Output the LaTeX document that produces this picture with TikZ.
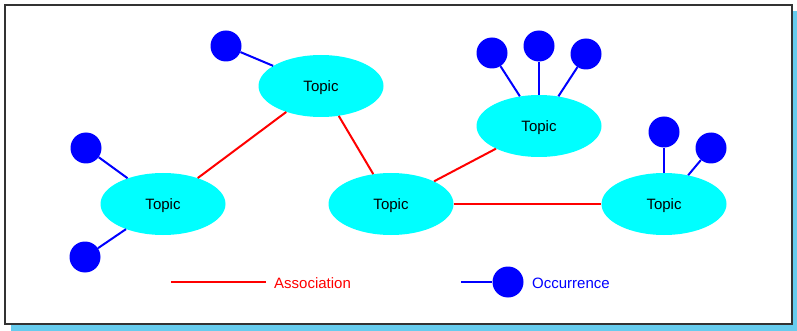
\documentclass[tikz,border=0pt]{standalone}
\usepackage{fontspec}
\setmainfont{Liberation Sans}
\usetikzlibrary{shapes.geometric}
\definecolor{shadowblue}{RGB}{102,204,238}
\definecolor{framegray}{RGB}{51,51,51}
\definecolor{topicfill}{RGB}{0,255,255}
\definecolor{occblue}{RGB}{0,0,255}
\definecolor{assocred}{RGB}{255,0,0}
\tikzset{
  topic/.style={ellipse, fill=topicfill, draw=none, minimum width=125pt, minimum height=62pt, inner sep=0pt, text depth=0pt, font=\fontsize{15}{18}\selectfont},
  occ/.style={circle, fill=occblue, draw=none, minimum size=31pt, inner sep=0pt},
  assoc/.style={draw=assocred, line width=2pt},
  occlink/.style={draw=occblue, line width=2pt},
  legendtext/.style={anchor=west, inner sep=0pt, font=\fontsize{15}{18}\selectfont}
}
\begin{document}
\begin{tikzpicture}[x=1pt,y=-1pt]
  \useasboundingbox (0,0) rectangle (797,331);
  % shadow and frame
  \fill[shadowblue] (11,11) rectangle (797,331);
  \filldraw[fill=white, draw=framegray, line width=2pt] (5,5) rectangle (792,324);

  % topics
  \node[topic] (t1) at (163,204) {Topic};
  \node[topic] (t2) at (321,86) {Topic};
  \node[topic] (t3) at (391,204) {Topic};
  \node[topic] (t4) at (539,126) {Topic};
  \node[topic] (t5) at (664,204) {Topic};

  % occurrences
  \node[occ] (o1) at (86,148) {};
  \node[occ] (o2) at (85,257) {};
  \node[occ] (o3) at (226,46) {};
  \node[occ] (o4) at (492,53) {};
  \node[occ] (o5) at (539,46) {};
  \node[occ] (o6) at (586,54) {};
  \node[occ] (o7) at (664,132) {};
  \node[occ] (o8) at (711,148) {};

  % occurrence links
  \draw[occlink] (o1) -- (t1);
  \draw[occlink] (o2) -- (t1);
  \draw[occlink] (o3) -- (t2);
  \draw[occlink] (o4) -- (t4);
  \draw[occlink] (o5) -- (t4);
  \draw[occlink] (o6) -- (t4);
  \draw[occlink] (o7) -- (t5);
  \draw[occlink] (o8) -- (t5);

  % associations
  \draw[assoc] (t1) -- (t2);
  \draw[assoc] (t2) -- (t3);
  \draw[assoc] (t3) -- (t4);
  \draw[assoc] (t3) -- (t5);

  % legend
  \coordinate (la1) at (171,282);
  \coordinate (la2) at (266,282);
  \draw[assoc] (la1) -- (la2);
  \node[legendtext, text=assocred] (lat) at (274,283.5) {Association};

  \coordinate (lo1) at (461,282);
  \node[occ] (lo) at (508,282) {};
  \draw[occlink] (lo1) -- (lo);
  \node[legendtext, text=occblue] (lot) at (532,283.5) {Occurrence};
\end{tikzpicture}
\end{document}
